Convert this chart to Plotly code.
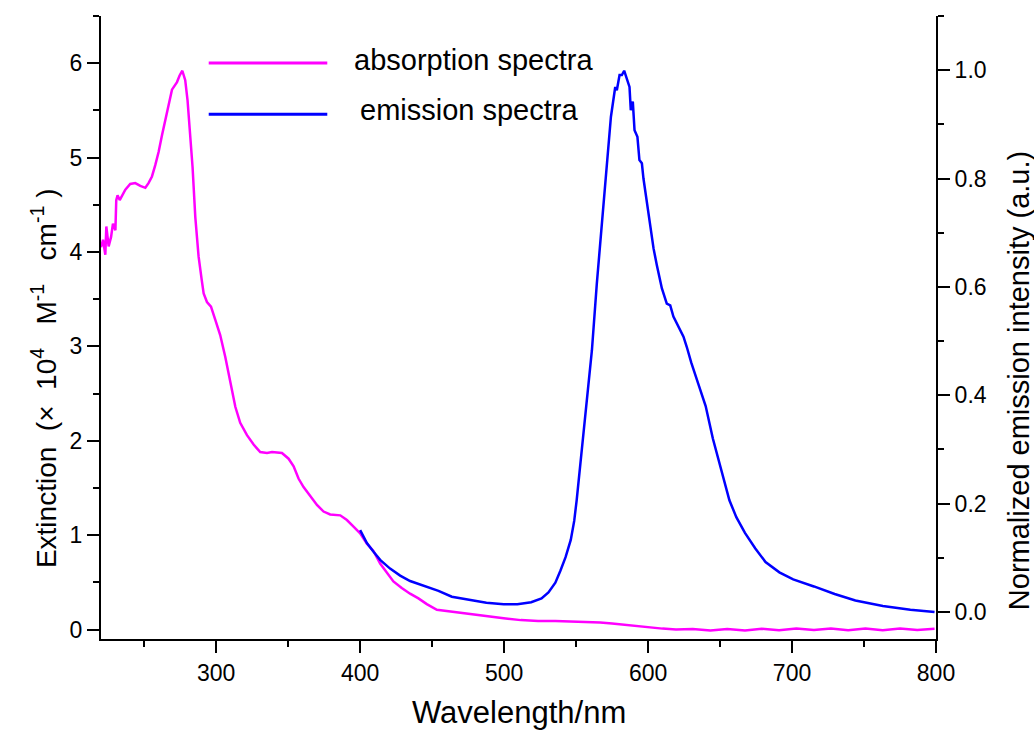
import plotly.graph_objects as go

# ---------------- data ----------------
abs_wavelength = [220, 221.4, 223, 223.7, 225.3, 227, 228.3, 230, 230.6, 231.5, 233, 234.6, 236.9, 240.3,
                  243.8, 247.3, 250.8, 253, 255.4, 257.7, 260, 262.4, 264.7, 267, 269.3, 272.8, 274.6,
                  276.5, 278.5, 280.1, 282, 283.6, 285.5, 287.8, 290, 291.3, 293.6, 296.4, 299.4, 302.8,
                  306.3, 309.8, 313.3, 316.7, 321.4, 326, 330.6, 335.3, 338.8, 345.7, 350.3, 353.8,
                  357.2, 360.7, 365.4, 370, 374.6, 379.2, 386.2, 390.8, 395.4, 400, 404.7, 409.3, 413.9,
                  418.5, 423.1, 428.9, 434.7, 440.5, 446.3, 453.3, 463.7, 475.8, 487.7, 499.7, 511.6,
                  523.6, 535.6, 547.6, 557, 566.7, 575, 583.4, 592, 600.3, 610, 619.4, 631, 643.3, 655,
                  667.3, 679, 691, 703, 715.2, 727, 739, 751, 763, 775, 787, 799]
abs_extinction = [4.05, 4.13, 3.97, 4.27, 4.06, 4.16, 4.30, 4.23, 4.55, 4.60, 4.55, 4.59, 4.66, 4.72,
                  4.73, 4.70, 4.68, 4.73, 4.80, 4.92, 5.06, 5.24, 5.40, 5.58, 5.72, 5.80, 5.87,
                  5.92, 5.82, 5.61, 5.26, 4.90, 4.37, 3.95, 3.70, 3.56, 3.47, 3.42, 3.28, 3.12,
                  2.89, 2.61, 2.36, 2.19, 2.06, 1.96, 1.88, 1.87, 1.88, 1.87, 1.81, 1.73,
                  1.60, 1.51, 1.41, 1.32, 1.25, 1.22, 1.21, 1.16, 1.09, 1.02, 0.91, 0.83, 0.70,
                  0.60, 0.51, 0.44, 0.38, 0.33, 0.27, 0.21, 0.19, 0.16, 0.14, 0.12, 0.10,
                  0.09, 0.09, 0.085, 0.08, 0.075, 0.065, 0.05, 0.035, 0.02, 0.01, 0.0, 0.005, -0.01, 0.005,
                  -0.01, 0.008, -0.008, 0.01, -0.005, 0.01, -0.008, 0.012, -0.006, 0.01, -0.005, 0.008]

em_wavelength = [400, 404.7, 409.3, 413.9, 420.8, 427.8, 434.7, 444, 454.4, 463.7, 475.8, 487.7,
                 499.7, 509.2, 518.8, 526, 530.8, 535.6, 539.1, 542.7, 546.3, 548.7, 550.4, 555,
                 561, 564.4, 567.9, 571.4, 574.2, 577.2, 578.3, 580.2, 581.8, 583.4, 585.3, 587.1,
                 588, 589.4, 590.6, 592.6, 594, 595.7, 596.8, 599.2, 601.5, 603.8, 606.1, 609.6,
                 613, 615.4, 617.6, 621.1, 624.6, 626.9, 630, 635, 640, 645, 650, 656.5, 661.3,
                 667.3, 674.5, 681.6, 691.2, 700.8, 715.2, 729.6, 744, 763.1, 782.2, 799]
em_intensity = [0.151, 0.127, 0.111, 0.096, 0.080, 0.067, 0.057, 0.048, 0.039, 0.028, 0.022, 0.017,
                0.014, 0.014, 0.018, 0.025, 0.036, 0.054, 0.076, 0.101, 0.133, 0.168, 0.206, 0.33,
                0.483, 0.606, 0.717, 0.834, 0.914, 0.969, 0.963, 0.991, 0.991, 0.999, 0.985, 0.969,
                0.926, 0.942, 0.889, 0.877, 0.834, 0.828, 0.800, 0.754, 0.711, 0.671, 0.640, 0.597,
                0.569, 0.566, 0.545, 0.526, 0.508, 0.489, 0.46, 0.42, 0.38, 0.32, 0.27, 0.206, 0.175,
                0.146, 0.117, 0.092, 0.073, 0.060, 0.047, 0.033, 0.021, 0.011, 0.004, 0.0]

legend_labels = ["absorption spectra", "emission spectra"]
x_title = "Wavelength/nm"
NB = "\u00a0"
y_title = ("Extinction" + NB * 2 + "(\u00d7" + NB * 2 + "10<sup>4</sup>" + NB * 3 + "M<sup>-1</sup>"
           + NB * 3 + "cm<sup>-1</sup>" + NB + ")")
y2_title = "Normalized emission intensity (a.u.)"

# ---------------- style ----------------
FONT = "Liberation Sans, Arial, Helvetica, sans-serif"
PINK = "#FF00FF"
BLUE = "#0000FF"

fig = go.Figure()
fig.add_trace(go.Scatter(x=abs_wavelength, y=abs_extinction, mode="lines",
                         line=dict(color=PINK, width=2.5), name=legend_labels[0],
                         xaxis="x", yaxis="y", showlegend=False))
fig.add_trace(go.Scatter(x=em_wavelength, y=em_intensity, mode="lines",
                         line=dict(color=BLUE, width=2.5), name=legend_labels[1],
                         xaxis="x", yaxis="y2", showlegend=False))

axis_common = dict(showline=True, linecolor="black", linewidth=2, showgrid=False, zeroline=False,
                   tickcolor="black", tickwidth=2, ticklen=12, automargin=False,
                   tickfont=dict(family=FONT, size=23, color="black"))

fig.update_layout(
    width=1034, height=731,
    margin=dict(l=101, r=98, t=16, b=92, autoexpand=False),
    paper_bgcolor="white", plot_bgcolor="white",
    font=dict(family=FONT, color="black"),
    xaxis=dict(**axis_common, range=[220, 800], dtick=100, tick0=0, ticks="outside",
               minor=dict(ticks="outside", dtick=50, tick0=0, ticklen=6, tickwidth=2, tickcolor="black")),
    xaxis2=dict(showline=True, linecolor="black", linewidth=2, showgrid=False, zeroline=False,
                overlaying="x", side="top", anchor="y", range=[220, 800], dtick=100, tick0=0,
                ticks="inside", ticklen=12, tickwidth=2, tickcolor="black", showticklabels=False,
                minor=dict(ticks="inside", dtick=50, tick0=0, ticklen=7, tickwidth=2, tickcolor="black")),
    yaxis=dict(**axis_common, range=[-0.1, 6.5], dtick=1, tick0=0, ticks="outside",
               minor=dict(ticks="outside", dtick=0.5, tick0=0, ticklen=6, tickwidth=2, tickcolor="black")),
    yaxis2=dict(**axis_common, overlaying="y", side="right", anchor="x", range=[-0.05, 1.1],
                dtick=0.2, tick0=0, tickformat=".1f", ticks="outside",
                minor=dict(ticks="outside", dtick=0.1, tick0=0, ticklen=6, tickwidth=2, tickcolor="black")),
)

# axis titles as annotations (positions as in the reference)
fig.add_annotation(xref="paper", yref="paper", x=0.5, y=-0.1187, text=x_title, showarrow=False,
                   xanchor="center", yanchor="middle",
                   font=dict(family=FONT, size=31, color="black"))
fig.add_annotation(xref="paper", yref="paper", x=-0.0683, y=0.4187, text=y_title, showarrow=False,
                   textangle=-90, xanchor="center", yanchor="middle",
                   font=dict(family=FONT, size=28, color="black"))
fig.add_annotation(xref="paper", yref="paper", x=1.0994, y=0.4155, text=y2_title, showarrow=False,
                   textangle=-90, xanchor="center", yanchor="middle",
                   font=dict(family=FONT, size=29, color="black"))

# manual legend (long line samples as in the reference)
legend_colors = [PINK, BLUE]
legend_y = [0.9246, 0.8423]
legend_text_x = [0.300, 0.3075]
legend_text_y = [0.929, 0.8487]
for lab, col, ly, tx, ty in zip(legend_labels, legend_colors, legend_y, legend_text_x, legend_text_y):
    fig.add_shape(type="line", xref="paper", yref="paper", x0=0.129, x1=0.271, y0=ly, y1=ly,
                  line=dict(color=col, width=3))
    fig.add_annotation(xref="paper", yref="paper", x=tx, y=ty, text=lab, showarrow=False,
                       xanchor="left", yanchor="middle",
                       font=dict(family=FONT, size=29, color="black"))

fig.write_html("out.html", config={"displayModeBar": False},
               post_script="document.body.style.margin='0px';document.body.style.padding='0px';")
